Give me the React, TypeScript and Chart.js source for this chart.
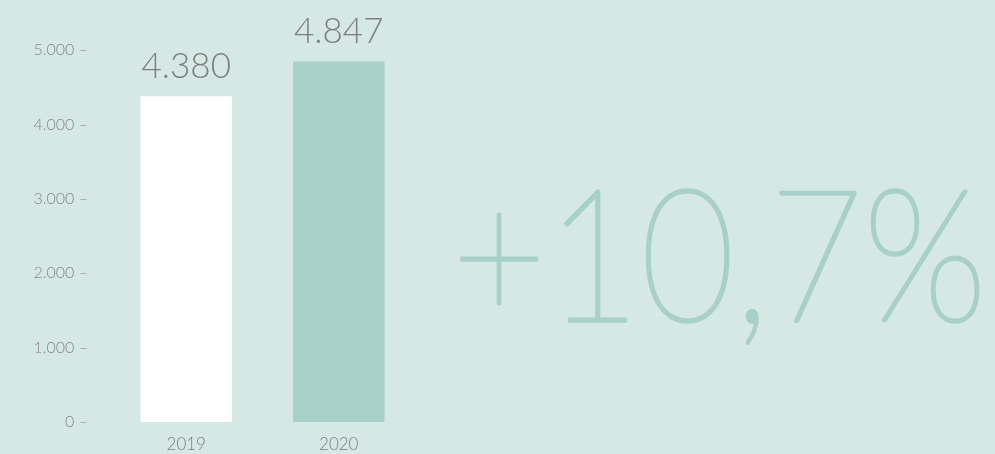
import React, { useEffect, useRef } from "react";
import { Chart, registerables } from "chart.js";

Chart.register(...registerables);

const categories = ["2019", "2020"];
const values = [4380, 4847];
const valueLabels = ["4.380", "4.847"];
const barColors = ["#ffffff", "#a7d0c9"];
const yTicks = [0, 1000, 2000, 3000, 4000, 5000];
const growthLabel = "+10,7%";

const BG = "#d5e8e4";
const TEAL = "#a7d0c9";
const GRAY = "#7e7e7e";
const FONT = "Lato, 'Open Sans', sans-serif";

function fmt(v: number): string {
  if (v === 0) return "0";
  return String(v).replace(/\B(?=(\d{3})+(?!\d))/g, ".");
}

const overlay = {
  id: "overlay",
  afterDatasetsDraw(chart: any) {
    const ctx = chart.ctx;
    const meta = chart.getDatasetMeta(0);
    ctx.save();
    ctx.fillStyle = GRAY;
    ctx.font = `300 35px ${FONT}`;
    ctx.textAlign = "center";
    ctx.textBaseline = "alphabetic";
    meta.data.forEach((bar: any, i: number) => {
      ctx.fillText(valueLabels[i], bar.x, bar.y - 18);
    });
    ctx.restore();
    // big growth text
    ctx.save();
    ctx.fillStyle = TEAL;
    ctx.strokeStyle = TEAL;
    ctx.lineWidth = 3.5;
    ctx.lineJoin = "round";
    ctx.font = `100 184px ${FONT}`;
    ctx.textAlign = "left";
    ctx.textBaseline = "alphabetic";
    const target = 535;
    const w = ctx.measureText(growthLabel).width;
    const sx = target / w;
    ctx.translate(452, 321);
    ctx.scale(sx, 1);
    ctx.fillText(growthLabel, 0, 0);
    ctx.strokeText(growthLabel, 0, 0);
    ctx.restore();
  },
};

export default function App() {
  const ref = useRef<HTMLCanvasElement | null>(null);
  useEffect(() => {
    if (!ref.current) return;
    const chart = new Chart(ref.current, {
      type: "bar",
      data: {
        labels: categories,
        datasets: [
          {
            data: values,
            backgroundColor: barColors,
            borderWidth: 0,
            barPercentage: 0.6,
            categoryPercentage: 1,
          },
        ],
      },
      options: {
        animation: false,
        responsive: false,
        maintainAspectRatio: false,
        layout: { padding: { top: 50, right: 580, bottom: 0, left: 0 } },
        plugins: { legend: { display: false }, tooltip: { enabled: false } },
        scales: {
          x: {
            grid: { display: false, drawTicks: false },
            border: { display: false },
            ticks: {
              color: GRAY,
              font: { family: FONT, size: 17, weight: 300 as any },
              padding: 12,
            },
            afterFit(scale: any) {
              scale.height = 32;
            },
          },
          y: {
            min: 0,
            max: 5000,
            afterBuildTicks(scale: any) {
              scale.ticks = yTicks.map((v) => ({ value: v }));
            },
            grid: { display: false, drawTicks: false },
            border: { display: false },
            ticks: {
              color: "#888888",
              font: { family: FONT, size: 16, weight: 300 as any },
              padding: 22,
              callback: (v: any) => `${fmt(Number(v))} –`,
            },
            afterFit(scale: any) {
              scale.width = 110;
            },
          },
        },
      },
      plugins: [overlay],
    });
    return () => chart.destroy();
  }, []);
  return (
    <div
      style={{
        position: "fixed",
        left: 0,
        top: 0,
        width: 995,
        height: 454,
        background: BG,
      }}
    >
      <canvas ref={ref} width={995} height={454} style={{ display: "block" }} />
    </div>
  );
}
